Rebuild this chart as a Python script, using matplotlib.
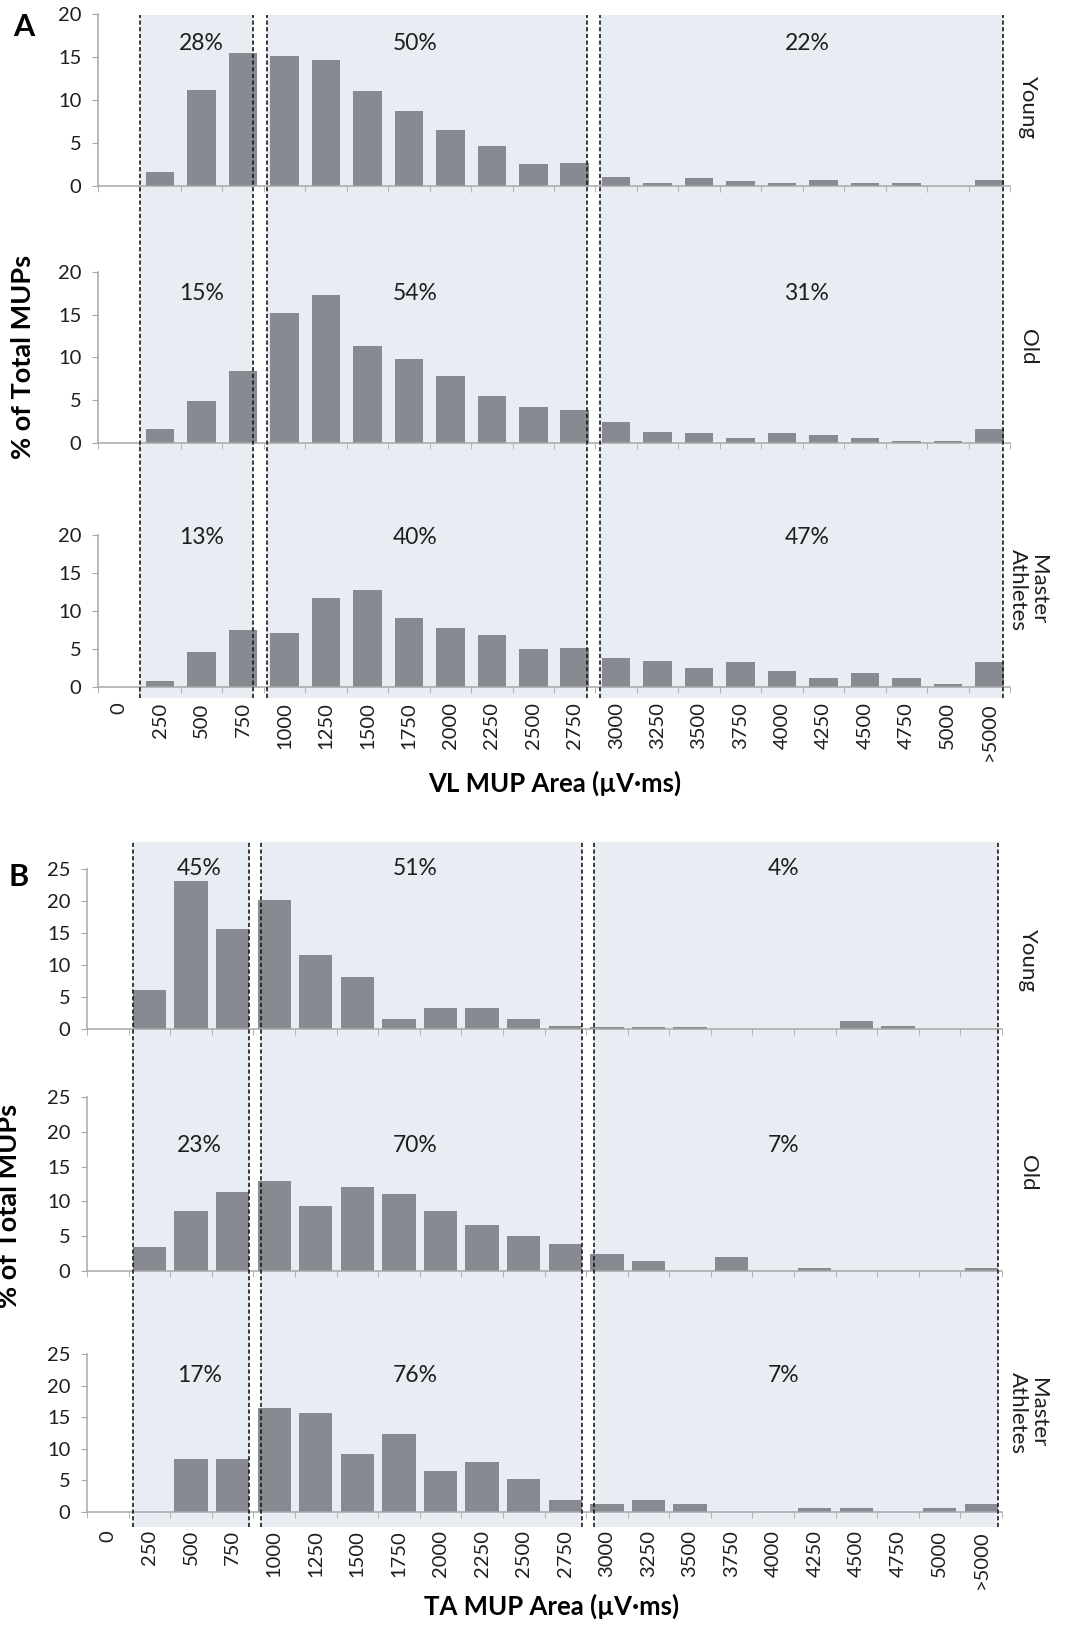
import numpy as np
import matplotlib.pyplot as plt
from matplotlib import transforms

plt.rcParams['font.family'] = ['Lato', 'DejaVu Sans']

# categorias do eixo x (area do MUP, µV·ms)
categorias = ['0', '250', '500', '750', '1000', '1250', '1500', '1750', '2000',
              '2250', '2500', '2750', '3000', '3250', '3500', '3750', '4000',
              '4250', '4500', '4750', '5000', '>5000']
grupos = ['Young', 'Old', 'Master\nAthletes']

# A: VL (% do total de MUPs)
vl_young = [0, 1.6, 11.2, 15.5, 15.1, 14.7, 11.0, 8.7, 6.5, 4.7, 2.5, 2.7,
            1.1, 0.4, 0.9, 0.55, 0.35, 0.7, 0.35, 0.35, 0, 0.7]
vl_old = [0, 1.65, 4.9, 8.4, 15.2, 17.3, 11.4, 9.8, 7.8, 5.5, 4.2, 3.9,
          2.4, 1.3, 1.15, 0.6, 1.15, 0.95, 0.6, 0.2, 0.2, 1.65]
vl_master = [0, 0.85, 4.65, 7.5, 7.05, 11.65, 12.7, 9.05, 7.8, 6.9, 5.05, 5.1,
             3.8, 3.45, 2.45, 3.25, 2.05, 1.2, 1.8, 1.2, 0.45, 3.25]
vl_pct = [['28%', '50%', '22%'], ['15%', '54%', '31%'], ['13%', '40%', '47%']]

# B: TA (% do total de MUPs)
ta_young = [0, 6.15, 23.1, 15.6, 20.2, 11.5, 8.1, 1.6, 3.3, 3.3, 1.6, 0.4,
            0.35, 0.35, 0.35, 0, 0, 0, 1.2, 0.4, 0, 0]
ta_old = [0, 3.5, 8.6, 11.4, 13.0, 9.4, 12.1, 11.0, 8.6, 6.6, 5.05, 3.95,
          2.4, 1.5, 0, 1.95, 0, 0.5, 0, 0, 0, 0.45]
ta_master = [0, 0, 8.45, 8.45, 16.45, 15.7, 9.2, 12.35, 6.55, 7.95, 5.2, 1.85,
             1.3, 1.85, 1.3, 0, 0, 0.65, 0.65, 0, 0.65, 1.3]
ta_pct = [['45%', '51%', '4%'], ['23%', '70%', '7%'], ['17%', '76%', '7%']]

W, H = 1074, 1626
COR_BARRA = '#878a90'
COR_FUNDO = '#e8ecf3'
COR_EIXO = '#a8a8a8'
COR_TEXTO = '#1e1e1e'

fig = plt.figure(figsize=(W / 100, H / 100), dpi=100)


def ret(x0, x1, topo, base):
    return [x0 / W, 1 - base / H, (x1 - x0) / W, (base - topo) / H]


# layout em pixels
paineis = [
    dict(letra='A', dados=[vl_young, vl_old, vl_master], pct=vl_pct,
         x0=98, x1=1010, fundo=(15, 698), linhas=[(14, 186), (272, 443), (535, 687)],
         ymax=20, largura=0.69, tracos=[0.525, 3.24, 3.58, 11.30, 11.61, 21.33],
         pct_x=[2.0, 7.15, 16.6], pct_y=[43, 293, 537],
         letra_xy=(24, 27), xlabel='VL MUP Area (µV·ms)', xlabel_xy=(555, 783),
         ylabel_xy=(23, 357), pad=11, rotulos_y=[107, 347, 590]),
    dict(letra='B', dados=[ta_young, ta_old, ta_master], pct=ta_pct,
         x0=87, x1=1002, fundo=(842, 1527), linhas=[(869, 1029), (1097, 1271), (1354, 1512)],
         ymax=25, largura=0.80, tracos=[0.596, 3.385, 3.675, 11.39, 11.68, 21.4],
         pct_x=[2.2, 7.4, 16.25], pct_y=[868, 1145, 1375],
         letra_xy=(19, 877), xlabel='TA MUP Area (µV·ms)', xlabel_xy=(552, 1606),
         ylabel_xy=(9, 1206), pad=13, rotulos_y=[960, 1173, 1413]),
]

x = np.arange(len(categorias))

for p in paineis:
    # fundo sombreado
    fundo = fig.add_axes(ret(p['x0'], p['x1'], *p['fundo']), zorder=0)
    fundo.set_xlim(-0.5, len(categorias) - 0.5)
    fundo.set_ylim(0, 1)
    fundo.axis('off')
    t = p['tracos']
    fundo.axvspan(t[0], t[1], color=COR_FUNDO, lw=0)
    fundo.axvspan(t[2], t[3], color=COR_FUNDO, lw=0)
    fundo.axvspan(t[4], t[5], color=COR_FUNDO, lw=0)

    for i, (topo, base) in enumerate(p['linhas']):
        ax = fig.add_axes(ret(p['x0'], p['x1'], topo, base), zorder=1)
        ax.set_facecolor('none')
        ax.bar(x, p['dados'][i], width=p['largura'], color=COR_BARRA)
        ax.set_xlim(-0.5, len(categorias) - 0.5)
        ax.set_ylim(0, p['ymax'])
        ax.set_yticks(np.arange(0, p['ymax'] + 1, 5))
        ax.set_xticks(x)
        ax.set_xticks(np.arange(-0.5, len(categorias)), minor=True)
        for lado in ['top', 'right']:
            ax.spines[lado].set_visible(False)
        for lado in ['left', 'bottom']:
            ax.spines[lado].set_color(COR_EIXO)
            ax.spines[lado].set_linewidth(1.1)
        ax.tick_params(axis='y', length=4, color=COR_EIXO, labelsize=14.5,
                       labelcolor=COR_TEXTO, pad=8)
        ax.tick_params(axis='x', which='minor', length=4, color=COR_EIXO)
        ax.tick_params(axis='x', which='major', length=0, labelsize=14.5,
                       labelcolor=COR_TEXTO, pad=p['pad'])
        if i == 2:
            ax.set_xticklabels(categorias, rotation=90, va='top')
        else:
            ax.set_xticklabels([])

        trans = transforms.blended_transform_factory(ax.transData, fig.transFigure)
        for k, txt in enumerate(p['pct'][i]):
            ax.text(p['pct_x'][k], 1 - p['pct_y'][i] / H, txt, transform=trans,
                    ha='center', va='center', fontsize=16.5, color=COR_TEXTO)

        fig.text(1028 / W, 1 - p['rotulos_y'][i] / H, grupos[i], rotation=-90,
                 ha='center', va='center', fontsize=16, color=COR_TEXTO,
                 multialignment='center', linespacing=1.0)

    # linhas tracejadas por cima das barras
    topo_ax = fig.add_axes(ret(p['x0'], p['x1'], *p['fundo']), zorder=2)
    topo_ax.set_facecolor('none')
    topo_ax.set_xlim(-0.5, len(categorias) - 0.5)
    topo_ax.set_ylim(0, 1)
    topo_ax.axis('off')
    for xt in p['tracos']:
        topo_ax.axvline(xt, color='#1a1a1a', lw=1.2, linestyle=(0, (2.5, 1.5)))

    fig.text(p['letra_xy'][0] / W, 1 - p['letra_xy'][1] / H, p['letra'],
             fontsize=22, fontweight='bold', ha='center', va='center')
    fig.text(p['xlabel_xy'][0] / W, 1 - p['xlabel_xy'][1] / H, p['xlabel'],
             fontsize=18.5, fontweight='bold', ha='center', va='center')
    fig.text(p['ylabel_xy'][0] / W, 1 - p['ylabel_xy'][1] / H, '% of Total MUPs',
             fontsize=19.5, fontweight='bold', ha='center', va='center', rotation=90)

fig.savefig('out.png', dpi=100)
